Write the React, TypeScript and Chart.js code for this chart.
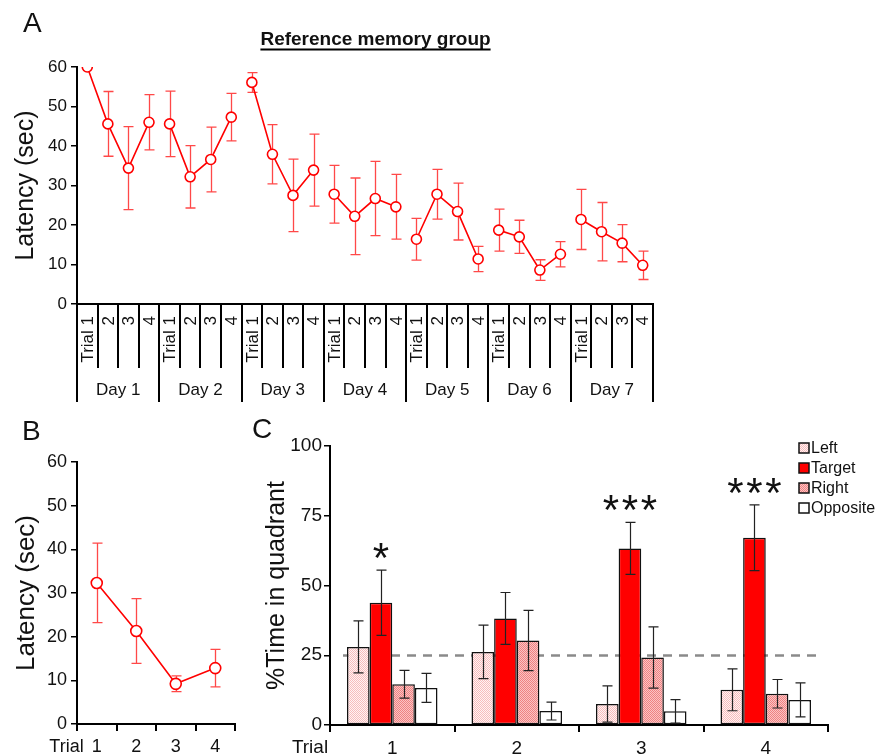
import React, { useEffect, useRef } from 'react';
import { Chart, registerables } from 'chart.js';

Chart.register(...registerables);

const FONT = '"Liberation Sans", Arial, Helvetica, sans-serif';
const RED = '#ff0000';
const ERR_RED = 'rgba(255,40,40,0.85)';
const INK = '#111111';

// ---- Panel A: acquisition (7 days x 4 trials) ----
const days = ['Day 1', 'Day 2', 'Day 3', 'Day 4', 'Day 5', 'Day 6', 'Day 7'];
const trialLabels = ['Trial 1', '2', '3', '4'];
const acqMean = [
  60.0, 45.6, 34.4, 46.0,
  45.6, 32.2, 36.6, 47.3,
  56.1, 37.9, 27.5, 33.9,
  27.8, 22.2, 26.7, 24.6,
  16.4, 27.8, 23.4, 11.4,
  18.7, 17.0, 8.6, 12.6,
  21.4, 18.3, 15.4, 9.8,
];
const acqSem = [
  0.0, 8.2, 10.5, 7.0,
  8.3, 7.9, 8.2, 6.0,
  2.5, 7.5, 9.2, 9.1,
  7.3, 9.7, 9.4, 8.2,
  5.3, 6.3, 7.2, 3.2,
  5.3, 4.2, 2.6, 3.2,
  7.6, 7.4, 4.7, 3.6,
];

// ---- Panel B: probe latency ----
const probeTrials = ['1', '2', '3', '4'];
const probeMean = [32.3, 21.3, 9.2, 12.8];
const probeSem = [9.1, 7.4, 1.8, 4.3];

// ---- Panel C: % time in quadrant ----
const quadrants = ['Left', 'Target', 'Right', 'Opposite'];
const leftMean = [28.0, 26.2, 7.5, 12.6];
const leftSem = [9.3, 9.6, 6.5, 7.5];
const targetMean = [43.8, 38.2, 63.3, 67.1];
const targetSem = [11.7, 9.3, 9.3, 11.8];
const rightMean = [14.6, 30.3, 24.2, 11.2];
const rightSem = [5.0, 10.8, 11.0, 5.1];
const oppMean = [13.3, 5.0, 4.9, 9.0];
const oppSem = [5.2, 3.2, 4.2, 6.1];
const sigMarks = ['*', '', '***', '***'];
const chanceLevel = 25;

function makePattern(a: string, b: string): CanvasPattern | string {
  const c = document.createElement('canvas');
  c.width = 2;
  c.height = 2;
  const g = c.getContext('2d');
  if (!g) return a;
  g.fillStyle = b;
  g.fillRect(0, 0, 2, 2);
  g.fillStyle = a;
  g.fillRect(0, 0, 1, 1);
  g.fillRect(1, 1, 1, 1);
  const p = g.createPattern(c, 'repeat');
  return p || a;
}

function errorBarPlugin(id: string, sets: { ds: number; sem: number[] }[], color: string, width: number, cap: number, after: boolean) {
  const draw = (chart: any) => {
    const ctx = chart.ctx;
    const ys = chart.scales.y;
    ctx.save();
    ctx.strokeStyle = color;
    ctx.lineWidth = width;
    sets.forEach(({ ds, sem }) => {
      const meta = chart.getDatasetMeta(ds);
      const data = chart.data.datasets[ds].data as number[];
      meta.data.forEach((el: any, i: number) => {
        const s = sem[i];
        if (!s) return;
        const x = Math.round(el.x) + 0.5;
        const yt = ys.getPixelForValue(data[i] + s);
        const yb = ys.getPixelForValue(data[i] - s);
        ctx.beginPath();
        ctx.moveTo(x, yt);
        ctx.lineTo(x, yb);
        ctx.moveTo(x - cap / 2, yt);
        ctx.lineTo(x + cap / 2, yt);
        ctx.moveTo(x - cap / 2, yb);
        ctx.lineTo(x + cap / 2, yb);
        ctx.stroke();
      });
    });
    ctx.restore();
  };
  return after ? { id, afterDatasetsDraw: draw } : { id, beforeDatasetsDraw: draw };
}

function yAxis(max: number, step: number, title: string, titleSize: number, titlePad: number, width: number, tickSize: number, labelPad: number) {
  return {
    min: 0,
    max,
    ticks: { stepSize: step, font: { family: FONT, size: tickSize }, color: INK, padding: labelPad },
    grid: { drawOnChartArea: false, drawTicks: true, tickLength: 6, color: '#000', lineWidth: 1.5 },
    border: { display: true, color: '#000', width: 2 },
    title: { display: true, text: title, font: { family: FONT, size: titleSize }, color: INK, padding: { top: titlePad, bottom: 0 } },
    afterFit: (s: any) => {
      s.width = width;
      s.paddingTop = 0;
      s.paddingBottom = 0;
    },
  };
}

export default function App() {
  const refA = useRef<HTMLCanvasElement>(null);
  const refB = useRef<HTMLCanvasElement>(null);
  const refC = useRef<HTMLCanvasElement>(null);

  useEffect(() => {
    const charts: Chart[] = [];

    // ---------- Panel A ----------
    const acqLabels: string[] = [];
    days.forEach((d) => trialLabels.forEach((t) => acqLabels.push(d + ' ' + t)));

    const axisA = {
      id: 'axisA',
      afterDraw(chart: any) {
        const ctx = chart.ctx;
        const xs = chart.scales.x;
        const bottom = chart.chartArea.bottom;
        const n = acqMean.length;
        ctx.save();
        ctx.strokeStyle = '#000';
        ctx.lineWidth = 2;
        for (let k = 0; k <= n; k++) {
          const x = Math.round(xs.getPixelForValue(k - 0.5));
          const isDay = k % trialLabels.length === 0;
          ctx.beginPath();
          ctx.moveTo(x, bottom);
          ctx.lineTo(x, bottom + (isDay ? 98 : 64));
          ctx.stroke();
        }
        ctx.fillStyle = INK;
        ctx.font = `17px ${FONT}`;
        for (let i = 0; i < n; i++) {
          const x = xs.getPixelForValue(i);
          ctx.save();
          ctx.translate(x + 1, bottom + 12);
          ctx.rotate(-Math.PI / 2);
          ctx.textAlign = 'right';
          ctx.textBaseline = 'middle';
          ctx.fillText(trialLabels[i % trialLabels.length], 0, 0);
          ctx.restore();
        }
        ctx.textAlign = 'center';
        ctx.textBaseline = 'middle';
        days.forEach((d, di) => {
          const x0 = xs.getPixelForValue(di * 4 - 0.5);
          const x1 = xs.getPixelForValue(di * 4 + 3.5);
          ctx.fillText(d, (x0 + x1) / 2, bottom + 86);
        });
        // panel letter + title
        ctx.textAlign = 'left';
        ctx.textBaseline = 'alphabetic';
        ctx.font = `28px ${FONT}`;
        ctx.fillText('A', 23, 32);
        ctx.font = `bold 19px ${FONT}`;
        ctx.textAlign = 'center';
        const title = 'Reference memory group';
        const tx = 375.5;
        ctx.fillText(title, tx, 45);
        const w = ctx.measureText(title).width;
        ctx.beginPath();
        ctx.lineWidth = 2;
        ctx.moveTo(tx - w / 2, 49.5);
        ctx.lineTo(tx + w / 2, 49.5);
        ctx.stroke();
        ctx.restore();
      },
    };

    if (refA.current) {
      charts.push(
        new Chart(refA.current, {
          type: 'line',
          data: {
            labels: acqLabels,
            datasets: [
              {
                data: acqMean,
                borderColor: RED,
                borderWidth: 1.6,
                pointRadius: 5,
                pointBorderWidth: 1.6,
                pointBackgroundColor: '#ffffff',
                pointBorderColor: RED,
                tension: 0,
                segment: {
                  borderColor: (c: any) => (c.p0DataIndex % 4 === 3 ? 'rgba(0,0,0,0)' : RED),
                },
              } as any,
            ],
          },
          options: {
            animation: false,
            responsive: false,
            devicePixelRatio: 1,
            layout: { padding: { top: 67, left: 0, right: 224, bottom: 0 } },
            plugins: { legend: { display: false }, tooltip: { enabled: false } },
            scales: {
              x: {
                offset: true,
                grid: { display: false },
                ticks: { display: false },
                border: { display: true, color: '#000', width: 2 },
                afterFit: (s: any) => {
                  s.height = 106;
                  s.paddingLeft = 0;
                  s.paddingRight = 0;
                },
              } as any,
              y: yAxis(60, 10, 'Latency (sec)', 25, 11, 77, 17, 4) as any,
            },
          },
          plugins: [errorBarPlugin('errA', [{ ds: 0, sem: acqSem }], ERR_RED, 1.3, 10, false), axisA],
        })
      );
    }

    // ---------- Panel B ----------
    const labelB = {
      id: 'labelB',
      afterDraw(chart: any) {
        const ctx = chart.ctx;
        const bottom = chart.chartArea.bottom;
        ctx.save();
        ctx.fillStyle = INK;
        ctx.font = `18px ${FONT}`;
        ctx.textAlign = 'center';
        ctx.textBaseline = 'middle';
        ctx.fillText('Trial', 66.5, bottom + 23);
        ctx.font = `28px ${FONT}`;
        ctx.textAlign = 'left';
        ctx.textBaseline = 'alphabetic';
        ctx.fillText('B', 22, 30);
        ctx.restore();
      },
    };

    if (refB.current) {
      charts.push(
        new Chart(refB.current, {
          type: 'line',
          data: {
            labels: probeTrials,
            datasets: [
              {
                data: probeMean,
                borderColor: RED,
                borderWidth: 1.6,
                pointRadius: 5.5,
                pointBorderWidth: 1.6,
                pointBackgroundColor: '#ffffff',
                pointBorderColor: RED,
                tension: 0,
              },
            ],
          },
          options: {
            animation: false,
            responsive: false,
            devicePixelRatio: 1,
            layout: { padding: { top: 52, left: 0, right: 15, bottom: 0 } },
            plugins: { legend: { display: false }, tooltip: { enabled: false } },
            scales: {
              x: {
                offset: true,
                grid: { offset: true, drawOnChartArea: false, drawTicks: true, tickLength: 7, color: '#000', lineWidth: 2 },
                ticks: { font: { family: FONT, size: 18 }, color: INK, padding: 5, maxRotation: 0 },
                border: { display: true, color: '#000', width: 2 },
                afterFit: (s: any) => {
                  s.height = 32;
                  s.paddingLeft = 0;
                  s.paddingRight = 0;
                },
              } as any,
              y: yAxis(60, 10, 'Latency (sec)', 26, 11, 77, 18, 4) as any,
            },
          },
          plugins: [errorBarPlugin('errB', [{ ds: 0, sem: probeSem }], ERR_RED, 1.3, 10, false), labelB],
        })
      );
    }

    // ---------- Panel C ----------
    const leftFill = makePattern('#f7bcbc', '#fff3f3');
    const rightFill = makePattern('#ef8282', '#fbc4c4');
    const fills: any[] = [leftFill, RED, rightFill, '#ffffff'];

    const decoC = {
      id: 'decoC',
      beforeDatasetsDraw(chart: any) {
        const ctx = chart.ctx;
        const ys = chart.scales.y;
        const { left, right } = chart.chartArea;
        const y = Math.round(ys.getPixelForValue(chanceLevel)) + 0.5;
        ctx.save();
        ctx.strokeStyle = '#8a8a8a';
        ctx.lineWidth = 2.5;
        ctx.setLineDash([9, 7]);
        ctx.beginPath();
        ctx.moveTo(left + 13, y);
        ctx.lineTo(right - 9, y);
        ctx.stroke();
        ctx.restore();
      },
      afterDatasetsDraw(chart: any) {
        const ctx = chart.ctx;
        const ys = chart.scales.y;
        const meta = chart.getDatasetMeta(1);
        ctx.save();
        ctx.fillStyle = INK;
        ctx.font = `42px ${FONT}`;
        ctx.textAlign = 'center';
        ctx.textBaseline = 'alphabetic';
        sigMarks.forEach((m, i) => {
          if (!m) return;
          const x = meta.data[i].x;
          const yc = ys.getPixelForValue(targetMean[i] + targetSem[i]) - 20;
          const n = m.length;
          for (let k = 0; k < n; k++) {
            const cx = x + (k - (n - 1) / 2) * 19;
            ctx.fillText(m[k], cx, yc + 22);
          }
        });
        ctx.restore();
      },
      afterDraw(chart: any) {
        const ctx = chart.ctx;
        const { top, right, bottom } = chart.chartArea;
        ctx.save();
        ctx.font = `16px ${FONT}`;
        ctx.textAlign = 'left';
        ctx.textBaseline = 'middle';
        quadrants.forEach((q, i) => {
          const cy = top + 2 + i * 20;
          const sx = right - 29;
          ctx.fillStyle = fills[i];
          ctx.fillRect(sx, cy - 5, 10, 10);
          ctx.strokeStyle = '#111';
          ctx.lineWidth = 1.5;
          ctx.strokeRect(sx, cy - 5, 10, 10);
          ctx.fillStyle = INK;
          ctx.fillText(q, right - 17, cy + 1);
        });
        ctx.font = `19px ${FONT}`;
        ctx.textAlign = 'center';
        ctx.fillText('Trial', 70, bottom + 23);
        ctx.font = `28px ${FONT}`;
        ctx.textAlign = 'left';
        ctx.textBaseline = 'alphabetic';
        ctx.fillText('C', 12, 28);
        ctx.restore();
      },
    };

    if (refC.current) {
      const means = [leftMean, targetMean, rightMean, oppMean];
      charts.push(
        new Chart(refC.current, {
          type: 'bar',
          data: {
            labels: probeTrials,
            datasets: quadrants.map((q, i) => ({
              label: q,
              data: means[i],
              backgroundColor: fills[i],
              borderColor: '#111111',
              borderWidth: 1.5,
              borderSkipped: false,
              categoryPercentage: 0.727,
              barPercentage: 1,
            })),
          },
          options: {
            animation: false,
            responsive: false,
            devicePixelRatio: 1,
            layout: { padding: { top: 36, left: 0, right: 49, bottom: 0 } },
            plugins: { legend: { display: false }, tooltip: { enabled: false } },
            scales: {
              x: {
                grid: { offset: true, drawOnChartArea: false, drawTicks: true, tickLength: 7, color: '#000', lineWidth: 2 },
                ticks: { font: { family: FONT, size: 19 }, color: INK, padding: 5, maxRotation: 0 },
                border: { display: true, color: '#000', width: 2 },
                afterFit: (s: any) => {
                  s.height = 31;
                  s.paddingLeft = 0;
                  s.paddingRight = 0;
                },
              } as any,
              y: yAxis(100, 25, '%Time in quadrant', 25, 22, 90, 19, 2) as any,
            },
          },
          plugins: [
            decoC,
            errorBarPlugin(
              'errC',
              [
                { ds: 0, sem: leftSem },
                { ds: 1, sem: targetSem },
                { ds: 2, sem: rightSem },
                { ds: 3, sem: oppSem },
              ],
              '#222222',
              1.2,
              10,
              true
            ),
          ],
        })
      );
    }

    return () => charts.forEach((c) => c.destroy());
  }, []);

  return (
    <div style={{ position: 'absolute', left: 0, top: 0, width: 877, height: 756, background: '#fff', overflow: 'hidden' }}>
      <canvas ref={refA} width={877} height={410} style={{ position: 'absolute', left: 0, top: 0, width: 877, height: 410 }} />
      <canvas ref={refB} width={250} height={346} style={{ position: 'absolute', left: 0, top: 410, width: 250, height: 346 }} />
      <canvas ref={refC} width={637} height={346} style={{ position: 'absolute', left: 240, top: 410, width: 637, height: 346 }} />
    </div>
  );
}
